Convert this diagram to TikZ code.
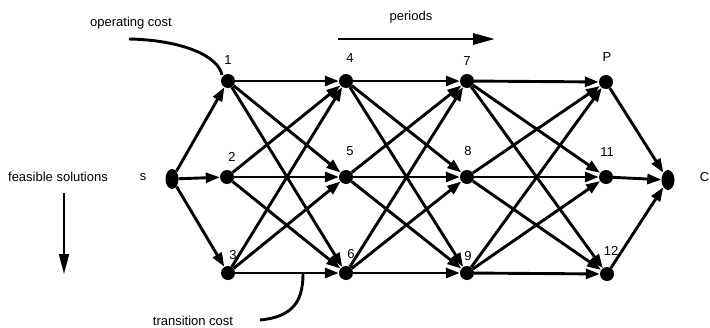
\documentclass[tikz,border=0pt]{standalone}
\usepackage{fontspec}
\setmainfont{Liberation Sans}
\usetikzlibrary{arrows.meta,shapes.geometric}
\begin{document}
\begin{tikzpicture}[x=1pt,y=1pt,
  vtx/.style={circle,fill=black,inner sep=0pt,minimum size=14pt},
  endv/.style={ellipse,fill=black,inner sep=0pt,minimum width=13pt,minimum height=20pt},
  lab/.style={font=\fontsize{13}{15}\selectfont,inner sep=0pt},
  edge/.style={line width=2.9pt,-{Triangle[length=14pt,width=10pt]}},
  bigarrow/.style={line width=2.9pt,-{Triangle[length=22pt,width=11pt]}},
  curve/.style={line width=2.9pt}
]
\useasboundingbox (0,0) rectangle (710,-327);
% vertices
\node[endv] (s) at (172,-179) {};
\node[vtx] (n1) at (228,-81) {};
\node[vtx] (n2) at (227,-177) {};
\node[vtx] (n3) at (228,-273) {};
\node[vtx] (n4) at (346,-81) {};
\node[vtx] (n5) at (346,-177) {};
\node[vtx] (n6) at (346,-273) {};
\node[vtx] (n7) at (467,-81) {};
\node[vtx] (n8) at (467,-177) {};
\node[vtx] (n9) at (467,-273) {};
\node[vtx] (nP) at (606,-82) {};
\node[vtx] (n11) at (606,-177) {};
\node[vtx] (n12) at (607,-274) {};
\node[endv] (C) at (668,-180) {};
% vertex labels
\node[lab] (l1) at (228,-60) {1};
\node[lab] (l2) at (232,-157) {2};
\node[lab] (l3) at (233,-255) {3};
\node[lab] (l4) at (350,-58) {4};
\node[lab] (l5) at (350,-151) {5};
\node[lab] (l6) at (351,-254) {6};
\node[lab] (l7) at (467,-61) {7};
\node[lab] (l8) at (468,-151) {8};
\node[lab] (l9) at (468,-256) {9};
\node[lab] (lP) at (607,-57) {P};
\node[lab] (l11) at (607,-152) {11};
\node[lab] (l12) at (611,-251) {12};
\node[lab] (ls) at (143,-177) {s};
\node[lab,anchor=east] (lC) at (709.5,-177) {C};
% edges
\foreach \b in {n1,n2,n3} \draw[edge] (s) -- (\b);
\foreach \a in {n1,n2,n3} \foreach \b in {n4,n5,n6} \draw[edge] (\a) -- (\b);
\foreach \a in {n4,n5,n6} \foreach \b in {n7,n8,n9} \draw[edge] (\a) -- (\b);
\foreach \a in {n7,n8,n9} \foreach \b in {nP,n11,n12} \draw[edge] (\a) -- (\b);
\foreach \a in {nP,n11,n12} \draw[edge] (\a) -- (C);
% annotations
\node[lab] (op) at (131,-23) {operating cost};
\coordinate (opS) at (129,-39);
\coordinate (opE) at (222,-75);
\draw[curve] (opS) .. controls (180,-40) and (218,-55) .. (opE);
\node[lab] (per) at (411,-17) {periods};
\coordinate (perA) at (338,-39);
\coordinate (perB) at (495,-39);
\draw[bigarrow] (perA) -- (perB);
\node[lab] (fs) at (58,-177) {feasible solutions};
\coordinate (fsA) at (64,-193);
\coordinate (fsB) at (64,-274);
\draw[line width=2.2pt,-{Triangle[length=20pt,width=10pt]}] (fsA) -- (fsB);
\node[lab] (tc) at (193,-321) {transition cost};
\coordinate (tcS) at (260,-320);
\coordinate (tcE) at (303,-274);
\draw[curve] (tcS) .. controls (292,-317) and (303,-302) .. (tcE);
\end{tikzpicture}
\end{document}
